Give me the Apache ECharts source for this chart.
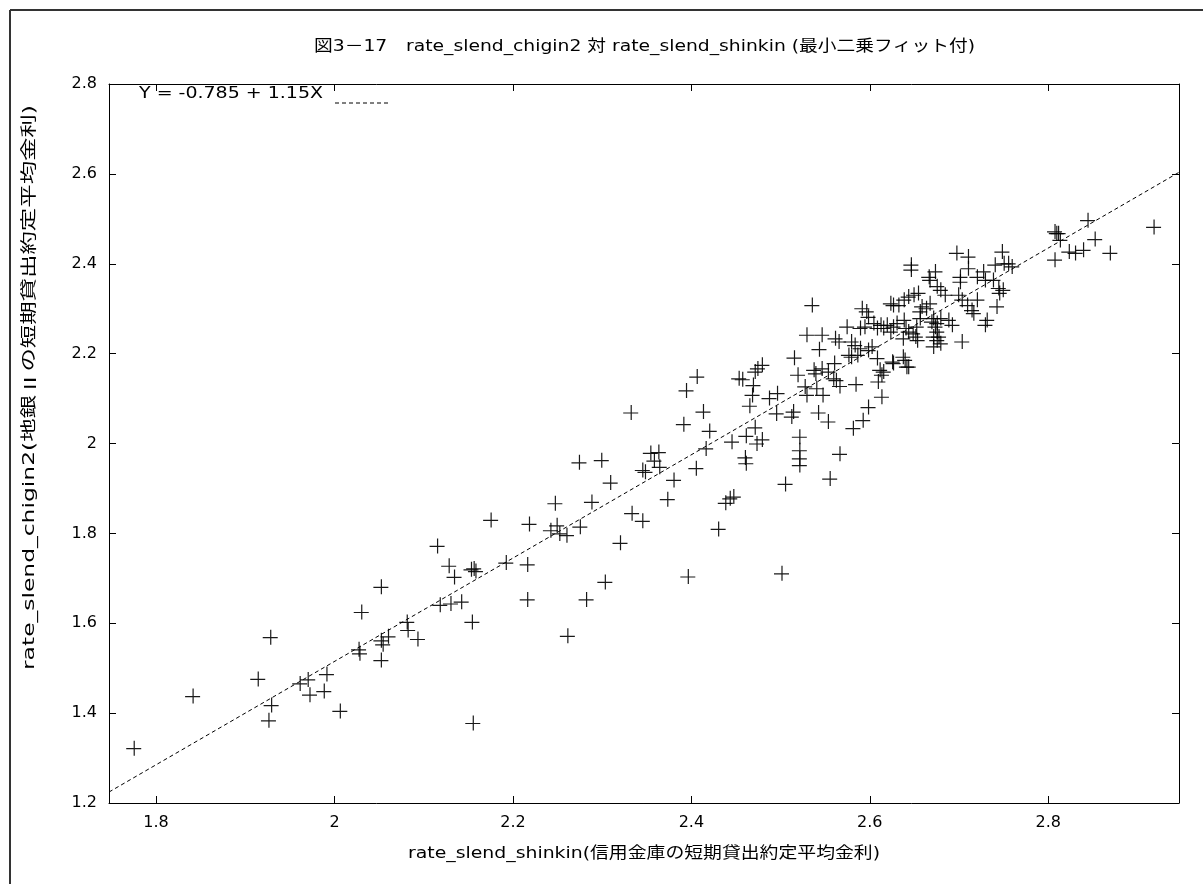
<!DOCTYPE html>
<html>
<head>
<meta charset="utf-8">
<script src="https://cdn.jsdelivr.net/npm/echarts@6/dist/echarts.min.js"></script>
<style>
  html, body { margin: 0; padding: 0; background: #fff; }
  #chart { width: 1203px; height: 884px; }
</style>
</head>
<body>
<div id="chart"></div>
<script>
// 信用金庫 (x) と 地銀Ⅱ (y) の短期貸出約定平均金利
const shinkinRate = [
  1.775, 1.841, 1.914, 1.928, 1.929, 1.926, 1.961, 1.970, 1.972, 1.988,
  1.991, 2.006, 2.027, 2.028, 2.030, 2.052, 2.052, 2.054, 2.052, 2.060,
  2.081, 2.082, 2.093, 2.115, 2.118, 2.128, 2.130, 2.134, 2.142, 2.153,
  2.156, 2.158, 2.154, 2.155, 2.175, 2.192, 2.216, 2.218, 2.216, 2.242,
  2.247, 2.249, 2.252, 2.260, 2.261, 2.274, 2.275, 2.282, 2.288, 2.299,
  2.303, 2.309, 2.320, 2.332, 2.333, 2.345, 2.345, 2.348, 2.354, 2.358,
  2.363, 2.364, 2.373, 2.380, 2.391, 2.394, 2.396, 2.405, 2.406, 2.413,
  2.416, 2.420, 2.430, 2.438, 2.443, 2.447, 2.445, 2.453, 2.457, 2.460,
  2.461, 2.461, 2.465, 2.468, 2.469, 2.471, 2.471, 2.473, 2.474, 2.479,
  2.479, 2.487, 2.496, 2.495, 2.501, 2.505, 2.512, 2.514, 2.515, 2.519,
  2.521, 2.521, 2.521, 2.521, 2.527, 2.529, 2.529, 2.535, 2.537, 2.539,
  2.540, 2.542, 2.543, 2.546, 2.546, 2.547, 2.553, 2.553, 2.555, 2.560,
  2.559, 2.561, 2.562, 2.565, 2.566, 2.566, 2.574, 2.576, 2.579, 2.579,
  2.581, 2.583, 2.584, 2.586, 2.589, 2.589, 2.591, 2.592, 2.594, 2.596,
  2.598, 2.598, 2.598, 2.602, 2.604, 2.608, 2.608, 2.609, 2.611, 2.612,
  2.613, 2.613, 2.615, 2.615, 2.619, 2.623, 2.623, 2.625, 2.626, 2.626,
  2.626, 2.630, 2.632, 2.637, 2.637, 2.638, 2.638, 2.639, 2.640, 2.641,
  2.643, 2.643, 2.643, 2.646, 2.646, 2.648, 2.649, 2.651, 2.652, 2.653,
  2.654, 2.656, 2.656, 2.658, 2.663, 2.666, 2.667, 2.667, 2.669, 2.671,
  2.671, 2.671, 2.673, 2.673, 2.675, 2.675, 2.675, 2.675, 2.677, 2.679,
  2.679, 2.679, 2.684, 2.688, 2.692, 2.697, 2.699, 2.701, 2.701, 2.703,
  2.703, 2.709, 2.710, 2.710, 2.714, 2.716, 2.720, 2.720, 2.727, 2.729,
  2.729, 2.731, 2.738, 2.740, 2.742, 2.744, 2.745, 2.748, 2.749, 2.750,
  2.755, 2.759, 2.807, 2.809, 2.811, 2.813, 2.807, 2.823, 2.830, 2.839,
  2.844, 2.852, 2.869, 2.918
];
const chigin2Rate = [
  1.322, 1.438, 1.476, 1.569, 1.418, 1.384, 1.466, 1.475, 1.441, 1.449,
  1.487, 1.405, 1.542, 1.533, 1.625, 1.681, 1.562, 1.553, 1.518, 1.571,
  1.603, 1.585, 1.565, 1.772, 1.641, 1.728, 1.644, 1.703, 1.648, 1.720,
  1.722, 1.716, 1.603, 1.378, 1.830, 1.735, 1.731, 1.821, 1.653, 1.807,
  1.867, 1.818, 1.800, 1.796, 1.572, 1.958, 1.815, 1.653, 1.870, 1.963,
  1.692, 1.913, 1.779, 2.069, 1.845, 1.828, 1.941, 1.937, 1.979, 1.962,
  1.981, 1.948, 1.876, 1.919, 2.043, 2.118, 1.704, 1.945, 2.149, 2.071,
  1.989, 2.028, 1.810, 1.868, 1.878, 1.882, 2.004, 2.145, 2.143, 1.969,
  1.956, 2.017, 2.084, 2.108, 2.130, 2.160, 2.036, 2.000, 2.167, 2.175,
  2.009, 2.101, 2.112, 2.067, 1.711, 1.910, 2.060, 2.071, 2.191, 2.153,
  2.015, 1.985, 1.967, 1.952, 2.127, 2.108, 2.242, 2.308, 2.164, 2.156,
  2.123, 2.069, 2.210, 2.242, 2.167, 2.108, 2.049, 2.160, 1.922, 2.179,
  2.145, 2.234, 2.141, 2.227, 2.128, 1.977, 2.260, 2.197, 2.227, 2.193,
  2.034, 2.219, 2.132, 2.197, 2.257, 2.212, 2.301, 2.052, 2.260, 2.294,
  2.282, 2.208, 2.081, 2.216, 2.268, 2.257, 2.190, 2.138, 2.164, 2.264,
  2.104, 2.153, 2.257, 2.160, 2.264, 2.312, 2.249, 2.182, 2.308, 2.260,
  2.179, 2.268, 2.308, 2.234, 2.193, 2.320, 2.275, 2.186, 2.257, 2.171,
  2.171, 2.327, 2.249, 2.398, 2.387, 2.245, 2.331, 2.238, 2.260, 2.230,
  2.335, 2.294, 2.279, 2.305, 2.301, 2.371, 2.364, 2.312, 2.271, 2.279,
  2.238, 2.216, 2.383, 2.260, 2.350, 2.268, 2.249, 2.230, 2.238, 2.342,
  2.279, 2.223, 2.331, 2.275, 2.264, 2.424, 2.331, 2.360, 2.371, 2.320,
  2.227, 2.308, 2.416, 2.390, 2.297, 2.290, 2.371, 2.320, 2.383, 2.364,
  2.264, 2.275, 2.364, 2.398, 2.305, 2.346, 2.335, 2.427, 2.342, 2.401,
  2.401, 2.394, 2.472, 2.468, 2.468, 2.453, 2.409, 2.427, 2.424, 2.431,
  2.497, 2.455, 2.424, 2.482
];

// 最小二乗フィットの係数
const fitIntercept = -0.785;
const fitSlope = 1.15;

// 目盛り
const xTicks = [1.8, 2.0, 2.2, 2.4, 2.6, 2.8];
const X_MIN = 1.7473, X_MAX = 2.9465;
const Y_MIN = 1.2, Y_MAX = 2.8, Y_STEP = 0.2;

const titleText = '図3－17　rate_slend_chigin2 対 rate_slend_shinkin (最小二乗フィット付)';
const xName = 'rate_slend_shinkin(信用金庫の短期貸出約定平均金利)';
const yNameHead = 'rate_slend_chigin2(地銀';
const yNameRoman = 'Ⅱ';
const yNameTail = 'の短期貸出約定平均金利)';
const fitLabel = 'Y = ' + fitIntercept + ' + ' + fitSlope + 'X';

const FONT = '"DejaVu Sans", Verdana, "Noto Sans CJK JP", sans-serif';
const CJK_FONT = '"Noto Sans CJK JP", sans-serif';
const FS = 16;

// 文字列の幅を測り、横方向の伸縮率を求める
const measureCtx = document.createElement('canvas').getContext('2d');
function textWidth(text, family) {
  measureCtx.font = FS + 'px ' + family;
  return measureCtx.measureText(text).width;
}

const titleScale = 661 / textWidth(titleText, FONT);
const xNameScale = 472 / textWidth(xName, FONT);
const fitLabelScale = 184 / textWidth(fitLabel, FONT);
const yNameWidth = textWidth(yNameHead, FONT) + textWidth(yNameRoman, CJK_FONT) + textWidth(yNameTail, FONT);
const yNameScale = 565 / yNameWidth;

const points = shinkinRate.map((x, i) => [x, chigin2Rate[i]]);
const fitLine = [X_MIN, X_MAX].map(x => [x, fitIntercept + fitSlope * x]);

const fmt = v => String(Number(v.toFixed(2)));

const chart = echarts.init(document.getElementById('chart'), null, { renderer: 'canvas' });

const axisLineStyle = { color: '#000', width: 1 };
const tickStyle = { color: '#000', width: 1 };

chart.setOption({
  animation: false,
  backgroundColor: '#fff',
  grid: { left: 109, right: 24, top: 84, bottom: 81, containLabel: false },
  xAxis: [
    {
      type: 'value', min: X_MIN, max: X_MAX, position: 'bottom',
      axisLine: { show: true, onZero: false, lineStyle: axisLineStyle },
      axisTick: { show: true, inside: true, length: 7, customValues: xTicks, lineStyle: tickStyle },
      axisLabel: { customValues: xTicks, formatter: fmt, color: '#000', fontFamily: FONT, fontSize: FS, margin: 12 },
      splitLine: { show: false }
    },
    {
      type: 'value', min: X_MIN, max: X_MAX, position: 'top',
      axisLine: { show: true, onZero: false, lineStyle: axisLineStyle },
      axisTick: { show: true, inside: true, length: 7, customValues: xTicks, lineStyle: tickStyle },
      axisLabel: { show: false },
      splitLine: { show: false }
    }
  ],
  yAxis: [
    {
      type: 'value', min: Y_MIN, max: Y_MAX, interval: Y_STEP, position: 'left',
      axisLine: { show: true, onZero: false, lineStyle: axisLineStyle },
      axisTick: { show: true, inside: true, length: 7, lineStyle: tickStyle },
      axisLabel: { formatter: fmt, color: '#000', fontFamily: FONT, fontSize: FS, margin: 12 },
      splitLine: { show: false }
    },
    {
      type: 'value', min: Y_MIN, max: Y_MAX, interval: Y_STEP, position: 'right',
      axisLine: { show: true, onZero: false, lineStyle: axisLineStyle },
      axisTick: { show: true, inside: true, length: 7, lineStyle: tickStyle },
      axisLabel: { show: false },
      splitLine: { show: false }
    }
  ],
  series: [
    {
      type: 'scatter',
      name: 'data',
      xAxisIndex: 0, yAxisIndex: 0,
      data: points,
      symbol: 'path://M0,7.4H15V8.6H0Z M7.4,0H8.6V15H7.4Z',
      symbolSize: 15,
      itemStyle: { color: '#000', opacity: 0.9 },
      silent: true
    },
    {
      type: 'line',
      name: fitLabel,
      xAxisIndex: 0, yAxisIndex: 0,
      data: fitLine,
      symbol: 'none',
      lineStyle: { color: '#000', width: 1, type: [4, 3] },
      silent: true,
      z: 3
    }
  ],
  graphic: [
    // 外枠
    { type: 'line', shape: { x1: 10, y1: 10, x2: 10, y2: 884 }, style: { stroke: '#333', lineWidth: 2 }, silent: true },
    { type: 'line', shape: { x1: 10, y1: 10, x2: 1203, y2: 10 }, style: { stroke: '#333', lineWidth: 2 }, silent: true },
    // 表題
    {
      type: 'text', x: 644.5, y: 47, scaleX: titleScale,
      style: { text: titleText, font: FS + 'px ' + FONT, fill: '#000', align: 'center', verticalAlign: 'middle' },
      silent: true
    },
    // 横軸名
    {
      type: 'text', x: 644, y: 854, scaleX: xNameScale,
      style: { text: xName, font: FS + 'px ' + FONT, fill: '#000', align: 'center', verticalAlign: 'middle' },
      silent: true
    },
    // 縦軸名
    {
      type: 'text', x: 30, y: 387.5, rotation: Math.PI / 2, scaleX: yNameScale,
      style: {
        text: yNameHead + '{r|' + yNameRoman + '}' + yNameTail,
        font: FS + 'px ' + FONT, fill: '#000', align: 'center', verticalAlign: 'middle',
        rich: { r: { fontFamily: CJK_FONT, fontSize: FS, fill: '#000' } }
      },
      silent: true
    },
    // 凡例
    {
      type: 'text', x: 139, y: 94, scaleX: fitLabelScale,
      style: { text: fitLabel, font: FS + 'px ' + FONT, fill: '#000', align: 'left', verticalAlign: 'middle' },
      silent: true
    },
    { type: 'line', shape: { x1: 335, y1: 103, x2: 388, y2: 103 }, style: { stroke: '#000', lineWidth: 1, lineDash: [4, 3] }, silent: true }
  ]
});
</script>
</body>
</html>
